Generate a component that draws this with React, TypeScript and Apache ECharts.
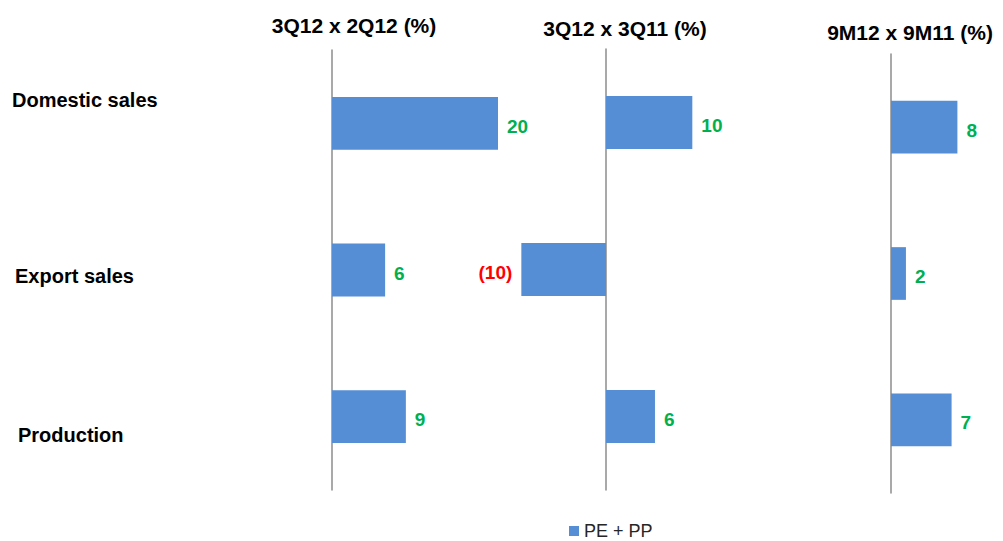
import React, { useEffect, useRef } from "react";
import * as echarts from "echarts";

const categories = ["Domestic sales", "Export sales", "Production"];
const panelTitles = ["3Q12 x 2Q12 (%)", "3Q12 x 3Q11 (%)", "9M12 x 9M11 (%)"];
const seriesName = "PE + PP";
const qoq = [20, 6.4, 8.9];
const yoy = [10.4, -10.2, 5.9];
const ytd = [8.0, 1.8, 7.3];
const panelValues = [qoq, yoy, ytd];

const BAR = "#558ed5";
const GREEN = "#00b050";
const RED = "#ff0000";
const FONT = "'Liberation Sans', Arial, sans-serif";

export default function App() {
  const ref = useRef<HTMLDivElement>(null);
  useEffect(() => {
    document.body.style.margin = "0";
    const chart = echarts.init(ref.current!, null, { renderer: "svg" });
    const zeroX = [332, 606, 891];
    const tops = [50, 49, 54];
    const heights = [440, 441, 439];
    const pxPerUnit = 8.3;
    const minV = -15;
    const maxVs = [25, 25, 12];
    const grids = zeroX.map((z, i) => ({
      left: z + minV * pxPerUnit,
      width: (maxVs[i] - minV) * pxPerUnit,
      top: tops[i],
      height: heights[i],
    }));
    const xAxes = zeroX.map((_, i) => ({
      type: "value",
      gridIndex: i,
      min: minV,
      max: maxVs[i],
      show: false,
    }));
    const yAxes = zeroX.map((_, i) => ({
      type: "category",
      gridIndex: i,
      data: categories,
      inverse: true,
      axisLine: { show: true, onZero: true, lineStyle: { color: "#8c8c8c", width: 1.5 } },
      axisTick: { show: false },
      axisLabel: { show: false },
    }));
    const series = panelValues.map((vals, i) => ({
      type: "bar",
      name: seriesName,
      xAxisIndex: i,
      yAxisIndex: i,
      barWidth: "36%",
      itemStyle: { color: BAR },
      data: vals.map((v) => ({
        value: v,
        label: {
          show: true,
          position: v < 0 ? "left" : "right",
          distance: 9,
          offset: [0, 3],
          color: v < 0 ? RED : GREEN,
          fontSize: 19,
          fontWeight: "bold",
          fontFamily: FONT,
          formatter: () => (v < 0 ? `(${Math.round(-v)})` : `${Math.round(v)}`),
        },
      })),
    }));
    const titlePos = [
      [354, 25],
      [625, 28],
      [910, 32],
    ];
    const catPos = [
      [12, 100],
      [15, 276],
      [18, 435],
    ];
    const graphic: any[] = [];
    panelTitles.forEach((t, i) => {
      graphic.push({
        type: "text",
        x: titlePos[i][0],
        y: titlePos[i][1],
        style: {
          text: t,
          fill: "#000",
          font: `bold 21px ${FONT}`,
          textAlign: "center",
          textVerticalAlign: "middle",
        },
      });
    });
    categories.forEach((c, i) => {
      graphic.push({
        type: "text",
        x: catPos[i][0],
        y: catPos[i][1],
        style: {
          text: c,
          fill: "#000",
          font: `bold 20px ${FONT}`,
          textAlign: "left",
          textVerticalAlign: "middle",
        },
      });
    });
    chart.setOption({
      animation: false,
      grid: grids,
      xAxis: xAxes,
      yAxis: yAxes,
      series,
      graphic,
      legend: {
        data: [seriesName],
        left: 569,
        top: 522,
        padding: 0,
        icon: "rect",
        itemWidth: 10,
        itemHeight: 10,
        itemGap: 5,
        textStyle: { fontSize: 18, color: "#262626", fontFamily: FONT },
      },
    } as any);
    return () => chart.dispose();
  }, []);
  return <div ref={ref} style={{ width: 1003, height: 541 }} />;
}
